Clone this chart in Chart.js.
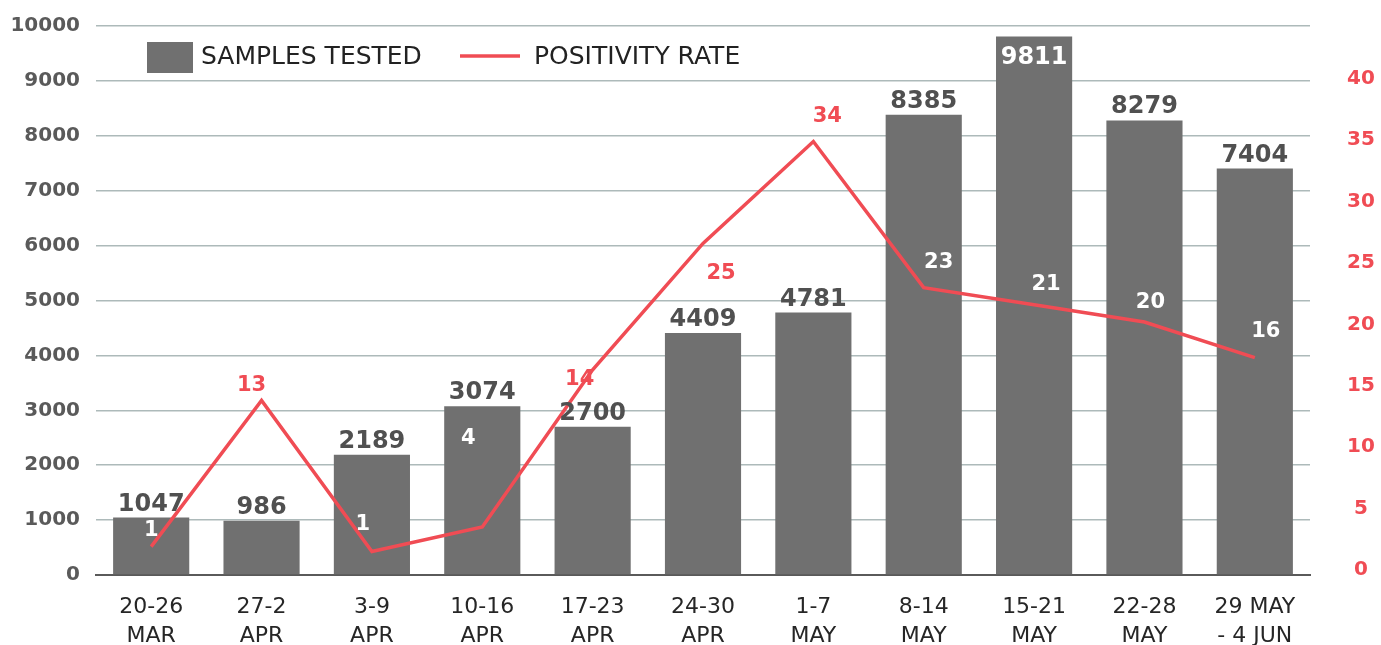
<!DOCTYPE html>
<html lang="en">
<head>
  <meta charset="UTF-8" />
  <title>Samples tested and positivity rate</title>
  <style>
    html, body { margin: 0; padding: 0; background: #fff; }
    canvas { display: block; }
  </style>
</head>
<body>

  <canvas id="testChart" width="1381" height="645"></canvas>

  <script src="https://cdn.jsdelivr.net/npm/chart.js"></script>
  <script>
    // weekly data
    const weeks = [
      ['20-26', 'MAR'], ['27-2', 'APR'], ['3-9', 'APR'], ['10-16', 'APR'],
      ['17-23', 'APR'], ['24-30', 'APR'], ['1-7', 'MAY'], ['8-14', 'MAY'],
      ['15-21', 'MAY'], ['22-28', 'MAY'], ['29 MAY', '- 4 JUN']
    ];
    const samplesTested = [1047, 986, 2189, 3074, 2700, 4409, 4781, 8385, 9811, 8279, 7404];
    const positivityRate = [1.9, 13.8, 1.5, 3.5, 16.3, 26.6, 34.9, 23.0, 21.6, 20.2, 17.3];
    const positivityLabels = ['1', '13', '1', '4', '14', '25', '34', '23', '21', '20', '16'];
    const samplesTicks = [0, 1000, 2000, 3000, 4000, 5000, 6000, 7000, 8000, 9000, 10000];
    const rateTicks = [0, 5, 10, 15, 20, 25, 30, 35, 40];

    const FONT = '"DejaVu Sans", sans-serif';
    const GREY = '#707070';
    const RED = '#f04c54';

    // where each rate label sits, relative to its point
    const rateLabelOffsets = [
      [0, -16], [-10, -15], [-9, -27], [-14, -88], [-13, 10], [18, 30],
      [14, -25], [15, -25], [12, -20], [6, -19], [11, -26]
    ];

    const valueLabels = {
      id: 'valueLabels',
      afterDatasetsDraw(chart) {
        const ctx = chart.ctx;
        const area = chart.chartArea;
        const bars = chart.getDatasetMeta(0).data;
        const points = chart.getDatasetMeta(1).data;
        ctx.save();
        ctx.textAlign = 'center';

        // bar values
        ctx.font = 'bold 24px ' + FONT;
        ctx.textBaseline = 'alphabetic';
        bars.forEach((bar, i) => {
          const txt = String(samplesTested[i]);
          if (bar.y - 7 - 19 < area.top) {
            ctx.fillStyle = '#ffffff';
            ctx.fillText(txt, bar.x, bar.y + 28);
          } else {
            ctx.fillStyle = '#505050';
            ctx.fillText(txt, bar.x, bar.y - 7);
          }
        });

        // rate labels, white when they land on a bar
        ctx.font = 'bold 21px ' + FONT;
        ctx.textBaseline = 'middle';
        points.forEach((pt, i) => {
          const x = pt.x + rateLabelOffsets[i][0];
          const y = pt.y + rateLabelOffsets[i][1];
          const onBar = bars.some(b => {
            const half = b.width / 2;
            return x > b.x - half && x < b.x + half && y > b.y && y < b.base;
          });
          ctx.fillStyle = onBar ? '#ffffff' : RED;
          ctx.fillText(positivityLabels[i], x, y);
        });
        ctx.restore();
      }
    };

    const drawLegend = {
      id: 'drawLegend',
      afterDraw(chart) {
        const ctx = chart.ctx;
        ctx.save();
        ctx.fillStyle = GREY;
        ctx.fillRect(147, 42, 46, 31);
        ctx.strokeStyle = RED;
        ctx.lineWidth = 3.5;
        ctx.beginPath();
        ctx.moveTo(460, 56);
        ctx.lineTo(520, 56);
        ctx.stroke();
        ctx.fillStyle = '#222222';
        ctx.font = '25px ' + FONT;
        ctx.textBaseline = 'middle';
        ctx.textAlign = 'left';
        ctx.fillText('SAMPLES TESTED', 201, 57);
        ctx.fillText('POSITIVITY RATE', 534, 57);
        ctx.restore();
      }
    };

    // y axes: fixed width and no extra label padding above/below
    function fixAxis(width) {
      return function (scale) {
        scale.width = width;
        scale.paddingTop = 0;
        scale.paddingBottom = 0;
      };
    }

    new Chart(document.getElementById('testChart'), {
      data: {
        labels: weeks,
        datasets: [
          {
            type: 'bar',
            label: 'SAMPLES TESTED',
            data: samplesTested,
            backgroundColor: GREY,
            categoryPercentage: 1,
            barPercentage: 0.69,
            yAxisID: 'y',
            order: 2
          },
          {
            type: 'line',
            label: 'POSITIVITY RATE',
            data: positivityRate,
            borderColor: RED,
            borderWidth: 3.5,
            pointRadius: 0,
            tension: 0,
            fill: false,
            yAxisID: 'y1',
            order: 1
          }
        ]
      },
      options: {
        responsive: false,
        animation: false,
        devicePixelRatio: 1,
        layout: { padding: { top: 26, left: 0, right: 0, bottom: 0 } },
        plugins: {
          legend: { display: false },
          tooltip: { enabled: false }
        },
        scales: {
          x: {
            offset: true,
            grid: { display: false },
            border: { color: '#5a5a5a', width: 2 },
            ticks: {
              color: '#262626',
              font: { family: FONT, size: 22, lineHeight: 1.3 },
              padding: 10,
              maxRotation: 0,
              autoSkip: false
            },
            afterFit(scale) { scale.height = 70; }
          },
          y: {
            position: 'left',
            min: 0,
            max: 10000,
            afterBuildTicks(scale) { scale.ticks = samplesTicks.map(v => ({ value: v })); },
            grid: { color: '#adbaba', lineWidth: 1.5, drawTicks: false },
            border: { display: false },
            ticks: {
              color: '#5a5a5a',
              font: { family: FONT, size: 20, weight: 'bold' },
              padding: 16,
              callback: v => String(v)
            },
            afterFit: fixAxis(96)
          },
          y1: {
            position: 'right',
            min: -0.41,
            max: 44.31,
            afterBuildTicks(scale) { scale.ticks = rateTicks.map(v => ({ value: v })); },
            grid: { display: false, drawTicks: false },
            border: { display: false },
            ticks: {
              color: RED,
              font: { family: FONT, size: 20, weight: 'bold' },
              padding: 37,
              crossAlign: 'center',
              callback: v => String(v)
            },
            afterFit: fixAxis(71)
          }
        }
      },
      plugins: [valueLabels, drawLegend]
    });
  </script>
</body>
</html>
